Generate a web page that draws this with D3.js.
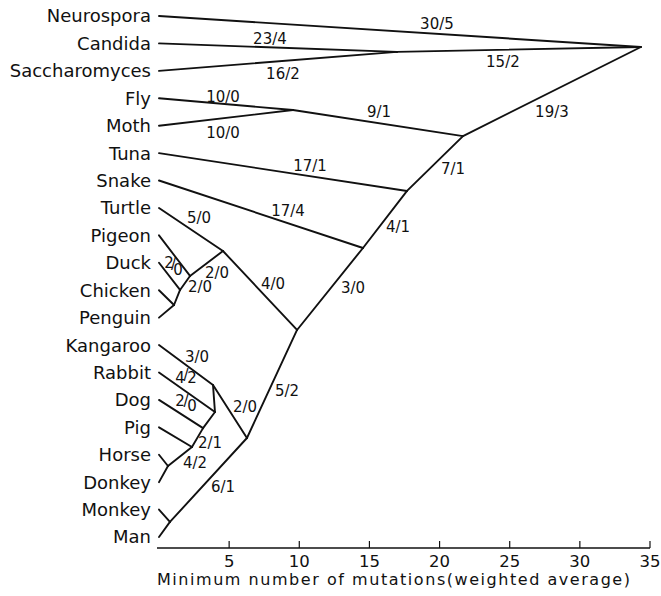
<!DOCTYPE html>
<html>
<head>
<meta charset="utf-8">
<script src="https://cdn.jsdelivr.net/npm/d3@7"></script>
<style>
  html, body { margin: 0; padding: 0; background: #fff; }
  svg { display: block; }
  text { font-family: "DejaVu Sans", sans-serif; fill: #111; }
</style>
</head>
<body>
<svg id="chart" width="661" height="596"></svg>
<script>
// Cytochrome c tree: taxa listed top to bottom.
const taxa = ["Neurospora", "Candida", "Saccharomyces", "Fly", "Moth", "Tuna", "Snake",
  "Turtle", "Pigeon", "Duck", "Chicken", "Penguin", "Kangaroo", "Rabbit", "Dog", "Pig",
  "Horse", "Donkey", "Monkey", "Man"];
const taxonParent = ["root", "yeasts", "yeasts", "insects", "insects", "vertebrates", "tetrapods",
  "reptiles", "birds", "duckGroup", "fowlPenguin", "fowlPenguin", "kangarooGroup", "rabbitGroup",
  "dogGroup", "ungulates", "equids", "equids", "primates", "primates"];

// Ancestral nodes: position on the mutation axis and vertical slot (in taxon rows).
const ancestors = ["root", "yeasts", "insects", "animals", "vertebrates", "tetrapods", "amniotes",
  "reptiles", "birds", "duckGroup", "fowlPenguin", "mammals", "kangarooGroup", "rabbitGroup",
  "dogGroup", "ungulates", "equids", "primates"];
const ancestorParent = [null, "root", "animals", "root", "animals", "vertebrates", "tetrapods",
  "amniotes", "reptiles", "birds", "duckGroup", "amniotes", "mammals", "kangarooGroup",
  "rabbitGroup", "dogGroup", "ungulates", "mammals"];
const ancestorMutations = [34.35, 16.96, 9.55, 21.67, 17.68, 14.54, 9.84, 4.56, 2.21, 1.50, 1.07,
  6.27, 3.85, 3.99, 3.14, 2.35, 0.64, 0.78];
const ancestorRow = [1.13, 1.31, 3.43, 4.38, 6.38, 8.46, 11.45, 8.57, 9.48, 9.99, 10.54,
  15.39, 13.46, 14.44, 15.03, 15.72, 16.41, 18.45];

// Branch labels (keyed by the lower end of the branch).
const labelledBranches = ["Neurospora", "Candida", "Saccharomyces", "yeasts", "Fly", "Moth",
  "insects", "animals", "Tuna", "vertebrates", "Snake", "tetrapods", "amniotes", "Turtle",
  "reptiles", "birds", "duckGroup", "Duck", "Kangaroo", "Rabbit", "Dog", "kangarooGroup",
  "mammals", "ungulates", "equids", "primates"];
const branchCounts = ["30/5", "23/4", "16/2", "15/2", "10/0", "10/0", "9/1", "19/3", "17/1", "7/1",
  "17/4", "4/1", "3/0", "5/0", "4/0", "2/0", "2/0", "2/0", "3/0", "4/2", "2/0", "2/0", "5/2",
  "2/1", "4/2", "6/1"];

// Axis ticks.
const tickValues = [5, 10, 15, 20, 25, 30, 35];
const axisTitle = "Minimum number of mutations(weighted average)";

// ---- layout ----
const labelPlacement = {           // [dx, dy] from branch midpoint, optional diagonal step
  Neurospora: [37, -7.5], Candida: [-8, -8.7], Saccharomyces: [5, 12.6], yeasts: [-16, 12.5],
  Fly: [-3, -8], Moth: [-3, 14.5], insects: [1, -11], animals: [0, 20.5], Tuna: [27, -6],
  vertebrates: [18, 5.5], Snake: [27, -4], tetrapods: [13, 7.5], amniotes: [23, -1],
  Turtle: [8, -11.5], reptiles: [13, -6.5], birds: [10.5, 9.5], duckGroup: [15, 4],
  Duck: [4, -7.4, 4.5, 6], Kangaroo: [11, -8], Rabbit: [-1, -12, 6, 3], Dog: [5, -8, 6, 5],
  kangarooGroup: [15, -4.5], mammals: [15, 7], ungulates: [12.5, 5.5], equids: [15, 6.5],
  primates: [14.5, 7]
};

const svg = d3.select("#chart");
const x = d3.scaleLinear().domain([0, 35]).range([159, 650]);
const y = d3.scaleLinear().domain([0, 19]).range([16, 537]);

const pos = new Map();
taxa.forEach((t, i) => pos.set(t, { x: x(0), y: y(i) }));
ancestors.forEach((a, i) => pos.set(a, { x: x(ancestorMutations[i]), y: y(ancestorRow[i]) }));

const parentOf = new Map();
taxa.forEach((t, i) => parentOf.set(t, taxonParent[i]));
ancestors.forEach((a, i) => { if (ancestorParent[i]) parentOf.set(a, ancestorParent[i]); });

const branches = Array.from(parentOf, ([child, parent]) => ({ child, parent }));

// branches
svg.append("g")
  .attr("stroke", "#111").attr("stroke-width", 1.9).attr("stroke-linecap", "round")
  .selectAll("line").data(branches).join("line")
  .attr("x1", d => pos.get(d.child).x).attr("y1", d => pos.get(d.child).y)
  .attr("x2", d => pos.get(d.parent).x).attr("y2", d => pos.get(d.parent).y);

// taxon names
svg.append("g").selectAll("text").data(taxa).join("text")
  .attr("x", 151).attr("y", (d, i) => y(i)).attr("dy", "0.36em")
  .attr("text-anchor", "end").attr("font-size", 18).text(d => d);

// branch labels
const labelG = svg.append("g").attr("font-size", 15);
labelledBranches.forEach((id, i) => {
  const a = pos.get(id), b = pos.get(parentOf.get(id));
  const p = labelPlacement[id];
  const cx = (a.x + b.x) / 2 + p[0], cy = (a.y + b.y) / 2 + p[1];
  const txt = branchCounts[i];
  const t = labelG.append("text").attr("dy", "0.36em").attr("text-anchor", "middle").text(txt);
  if (p.length > 2) {
    // stepped diagonal lettering along the branch: one position per character
    const n = txt.length;
    const offs = d3.range(n).map(k => k - (n - 1) / 2);
    t.attr("x", offs.map(o => (cx + o * p[2]).toFixed(1)).join(" "))
     .attr("y", offs.map(o => (cy + o * p[3]).toFixed(1)).join(" "));
  } else {
    t.attr("x", cx).attr("y", cy);
  }
});

// axis
const axisY = 548;
const axisG = svg.append("g").attr("transform", `translate(0,${axisY})`);
axisG.append("line").attr("x1", 157).attr("x2", x(35)).attr("y1", 0).attr("y2", 0)
  .attr("stroke", "#111").attr("stroke-width", 1.6);
axisG.selectAll(".tick").data(tickValues).join("line")
  .attr("x1", d => x(d)).attr("x2", d => x(d)).attr("y1", 0).attr("y2", -7)
  .attr("stroke", "#111").attr("stroke-width", 1.2);
axisG.selectAll(".ticklabel").data(tickValues).join("text")
  .attr("x", d => x(d)).attr("y", 18.5).attr("text-anchor", "middle")
  .attr("font-size", 16.5).text(d => d);
svg.append("text").attr("x", 157).attr("y", 585).attr("font-size", 16)
  .attr("textLength", 473).attr("lengthAdjust", "spacing").text(axisTitle);
</script>
</body>
</html>
